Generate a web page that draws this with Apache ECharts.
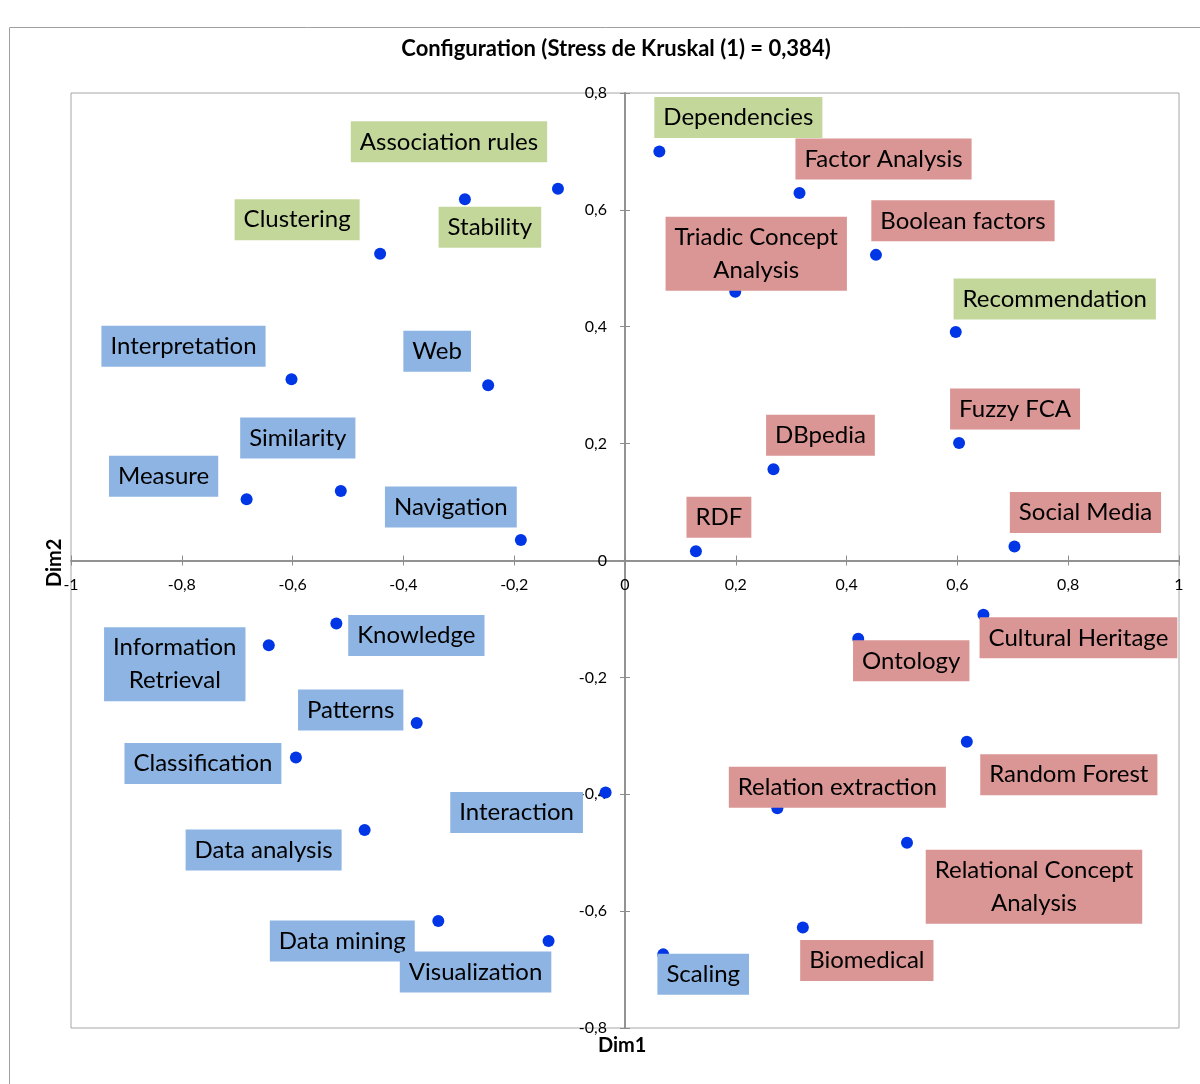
<!DOCTYPE html>
<html>
<head>
<meta charset="utf-8">
<script src="https://cdn.jsdelivr.net/npm/echarts@6/dist/echarts.min.js"></script>
<style>
  html, body { margin: 0; padding: 0; background: #fff; }
  #chart { width: 1200px; height: 1084px; }
</style>
</head>
<body>
<div id="chart"></div>
<script>
// MDS configuration
const names = [
  'Association rules', 'Stability', 'Clustering', 'Interpretation', 'Web',
  'Similarity', 'Measure', 'Navigation',
  'Dependencies', 'Factor Analysis', 'Boolean factors', 'Triadic Concept\nAnalysis',
  'Recommendation', 'Fuzzy FCA', 'DBpedia', 'RDF', 'Social Media',
  'Knowledge', 'Information\nRetrieval', 'Patterns', 'Classification', 'Interaction',
  'Data analysis', 'Data mining', 'Visualization',
  'Cultural Heritage', 'Ontology', 'Random Forest', 'Relation extraction',
  'Relational Concept\nAnalysis', 'Biomedical', 'Scaling'
];
const dim1 = [
  -0.121, -0.289, -0.442, -0.602, -0.247,
  -0.513, -0.683, -0.188,
  0.062, 0.315, 0.453, 0.199,
  0.597, 0.603, 0.268, 0.128, 0.703,
  -0.521, -0.643, -0.376, -0.594, -0.035,
  -0.470, -0.337, -0.138,
  0.647, 0.421, 0.617, 0.275,
  0.509, 0.321, 0.069
];
const dim2 = [
  0.636, 0.618, 0.525, 0.310, 0.300,
  0.119, 0.105, 0.035,
  0.700, 0.629, 0.523, 0.460,
  0.391, 0.201, 0.156, 0.016, 0.024,
  -0.108, -0.145, -0.278, -0.337, -0.397,
  -0.461, -0.617, -0.651,
  -0.093, -0.134, -0.310, -0.424,
  -0.483, -0.628, -0.674
];
const groups = [
  'g', 'g', 'g', 'b', 'b',
  'b', 'b', 'b',
  'g', 'r', 'r', 'r',
  'g', 'r', 'r', 'r', 'r',
  'b', 'b', 'b', 'b', 'b',
  'b', 'b', 'b',
  'r', 'r', 'r', 'r',
  'r', 'r', 'b'
];

// label placement (pixel offset of the label box centre from the dot)
const labelOffsets = [
  [-109, -47], [25, 28], [-83, -34], [-108, -33], [-51, -34],
  [-43, -53], [-83, -23], [-70, -33],
  [79, -34], [84, -34], [87, -34], [21, -38],
  [99, -33], [56, -34], [47, -34], [23, -34], [71, -34],
  [80, 12], [-94, 19], [-66, -13], [-93, 6], [-89, 20],
  [-101, 20], [-96, 20], [-73, 31],
  [95, 23], [53, 22], [102, 33], [60, -21],
  [127, 44], [64, 33], [40, 20]
];
const groupColors = { g: '#C4D79B', b: '#8DB4E2', r: '#DA9694' };

const fmt = v => String(Math.round(v * 10) / 10).replace('.', ',');
const axisGrey = '#8c8c8c';
const FONT = 'Lato';
const gridBox = { left: 71, right: 21, top: 93, bottom: 56 };
// the axes cross at (0,0): shift them from the grid edge onto the centre
const xShift = -(1084 - 56 - 93) / 2;
const yShift = -(1200 - 71 - 21) / 2;

const points = names.map((n, i) => ({
  name: n,
  value: [dim1[i], dim2[i]],
  label: {
    offset: labelOffsets[i],
    backgroundColor: groupColors[groups[i]]
  }
}));

// outer axes carry the labels, inner ones only give the inward half of the cross ticks
function makeAxis(min, max, gridIndex, inside, shift, margin) {
  return {
    type: 'value', min: min, max: max, interval: 0.2, gridIndex: gridIndex,
    offset: shift,
    axisLine: { onZero: false, lineStyle: { color: axisGrey, width: 1.5 } },
    axisTick: { inside: inside, length: 5, lineStyle: { color: axisGrey } },
    axisLabel: inside ? { show: false } : {
      formatter: fmt, margin: margin, fontFamily: FONT, fontSize: 16, color: '#000',
      showMinLabel: true, showMaxLabel: true
    },
    splitLine: { show: false }
  };
}

const chart = echarts.init(document.getElementById('chart'));
chart.setOption({
  animation: false,
  title: {
    text: 'Configuration (Stress de Kruskal (1) = 0,384)',
    left: 611,
    top: 33,
    textAlign: 'center',
    textStyle: { fontFamily: FONT, fontSize: 22, fontWeight: 'bold', color: '#000' }
  },
  graphic: [
    {
      type: 'rect', silent: true, z: -1,
      shape: { x: 9.5, y: 27.5, width: 1300, height: 1200 },
      style: { fill: null, stroke: '#a0a0a0', lineWidth: 1 }
    },
    {
      type: 'text', left: 598, top: 1036,
      style: { text: 'Dim1', font: 'bold 20px ' + FONT, fill: '#000' }
    },
    {
      type: 'text', x: 45, y: 587, rotation: Math.PI / 2,
      style: { text: 'Dim2', font: 'bold 20px ' + FONT, fill: '#000' }
    }
  ],
  grid: [
    Object.assign({ show: true, borderColor: '#a6a6a6', borderWidth: 1 }, gridBox),
    Object.assign({ show: false }, gridBox)
  ],
  xAxis: [makeAxis(-1, 1, 0, false, xShift, 16), makeAxis(-1, 1, 1, true, xShift)],
  yAxis: [makeAxis(-0.8, 0.8, 0, false, yShift, 18), makeAxis(-0.8, 0.8, 1, true, yShift)],
  series: [
    {
      type: 'scatter',
      xAxisIndex: 0,
      yAxisIndex: 0,
      symbol: 'circle',
      symbolSize: 12,
      itemStyle: { color: '#0036E6', opacity: 1 },
      label: {
        show: true,
        position: 'inside',
        formatter: '{b}',
        fontFamily: FONT,
        fontSize: 24,
        lineHeight: 33,
        color: '#000',
        align: 'center',
        padding: [4, 9, 4, 9]
      },
      emphasis: { disabled: true },
      data: points
    }
  ]
});
</script>
</body>
</html>
